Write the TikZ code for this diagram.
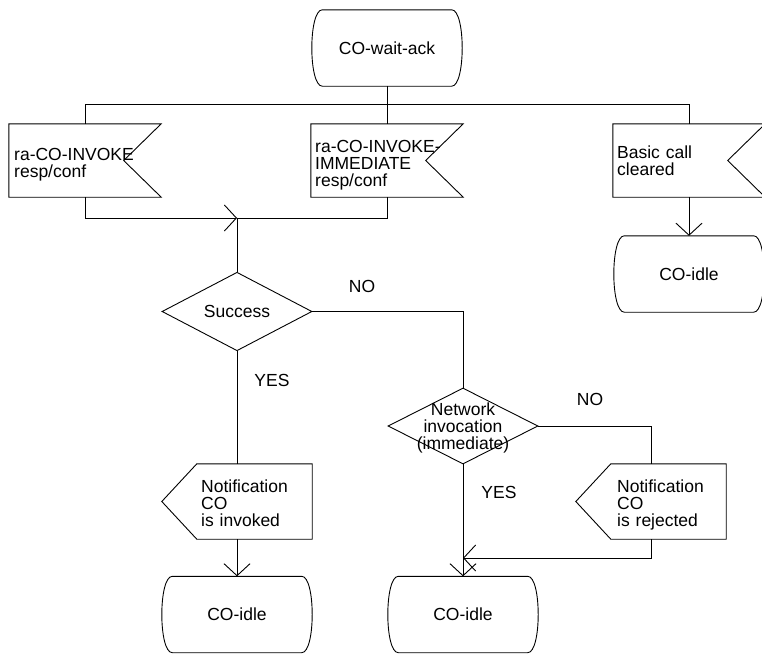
\documentclass[tikz,border=0pt]{standalone}
\usepackage{fontspec}
\setmainfont{Liberation Sans}
\usetikzlibrary{arrows.meta,shapes.geometric}
\newcommand\dfont{\fontsize{17.5pt}{17.3pt}\selectfont}
\begin{document}
\begin{tikzpicture}[x=1pt,y=-1pt,
  shp/.style={draw=black, line width=0.9pt},
  cn/.style={draw=black, line width=0.9pt},
  arr/.style={cn, -{Straight Barb[length=12pt,width=26pt]}},
  box/.style={rectangle, inner sep=0pt, font=\dfont},
  statebox/.style={box, minimum width=155pt, minimum height=76pt},
  sigbox/.style={box, minimum width=152pt, minimum height=73pt},
  outbox/.style={box, minimum width=150pt, minimum height=75pt},
  decision/.style={diamond, draw=black, line width=0.9pt, inner sep=0pt, minimum width=150pt, minimum height=76pt, font=\dfont},
  txt/.style={inner sep=0pt, font=\dfont, align=left, text width=145pt, anchor=base west},
  lbl/.style={inner sep=0pt, font=\dfont},
]
\useasboundingbox (0,0) rectangle (762,653);
\clip (0,0) rectangle (762,653);

% shapes
\node[statebox] (s0) at (387,48) {CO-wait-ack};
\node[sigbox] (b1) at (85,160.5) {};
\node[sigbox] (b2) at (387,160.5) {};
\node[sigbox] (b3) at (689,160.5) {};
\node[statebox] (c3) at (689,274) {CO-idle};
\node[decision] (d1) at (237,311.5) {Success};
\node[decision] (d2) at (463,426) {};
\node[lbl, align=center] (d2t) at (463,428) {Network\\invocation\\(immediate)};
\node[outbox] (o1) at (237,501.5) {};
\node[outbox] (o2) at (651,501.5) {};
\node[statebox] (c1) at (237,614.5) {CO-idle};
\node[statebox] (c2) at (463,614.5) {CO-idle};

% texts of signals
\node[txt] (b1t) at (14,160) {ra-CO-INVOKE\\resp/conf};
\node[txt] (b2t) at (315,152) {ra-CO-INVOKE-\\IMMEDIATE\\resp/conf};
\node[txt] (b3t) at (617,158) {Basic call\\cleared};
\node[txt] (o1t) at (201,492) {Notification\\CO\\is invoked};
\node[txt] (o2t) at (617,492) {Notification\\CO\\is rejected};

% outlines
\foreach \n in {s0,c1,c2,c3}
  \draw[shp] ([xshift=13pt]\n.north west) -- ([xshift=-13pt]\n.north east)
    .. controls ([xshift=1pt]\n.north east) and ([xshift=1pt]\n.south east) .. ([xshift=-13pt]\n.south east)
    -- ([xshift=13pt]\n.south west)
    .. controls ([xshift=-1pt]\n.south west) and ([xshift=-1pt]\n.north west) .. cycle;
\foreach \n in {b1,b2,b3}
  \draw[shp] (\n.north west) -- (\n.north east) -- ([xshift=-37.5pt]\n.east) -- (\n.south east) -- (\n.south west) -- cycle;
\foreach \n in {o1,o2}
  \draw[shp] ([xshift=35pt]\n.north west) -- (\n.north east) -- (\n.south east) -- ([xshift=35pt]\n.south west) -- (\n.west) -- cycle;

% connectors
\coordinate (bus) at (0,104);
\coordinate (j1) at (237,218);
\coordinate (j2) at (463,558);
\draw[cn] (b1.north) -- (b1.north |- bus) -- (b3.north |- bus) -- (b3.north);
\draw[cn] (s0.south) -- (b2.north);
\draw[arr] (b1.south) |- (j1);
\draw[cn] (b2.south) |- (j1);
\draw[cn] (j1) -- (d1.north);
\draw[cn] (d1.east) -| (d2.north);
\draw[cn] (d1.south) -- (o1.north);
\draw[arr] (o1.south) -- (c1.north);
\draw[cn] (d2.east) -| (o2.north);
\draw[arr] (d2.south) -- (c2.north);
\draw[arr] (o2.south) |- (j2);
\draw[arr] (b3.south) -- (c3.north);

% labels
\node[lbl] (no1) at (362,286) {NO};
\node[lbl] (yes1) at (272,380) {YES};
\node[lbl] (no2) at (590,399) {NO};
\node[lbl] (yes2) at (499,492) {YES};
\end{tikzpicture}
\end{document}
